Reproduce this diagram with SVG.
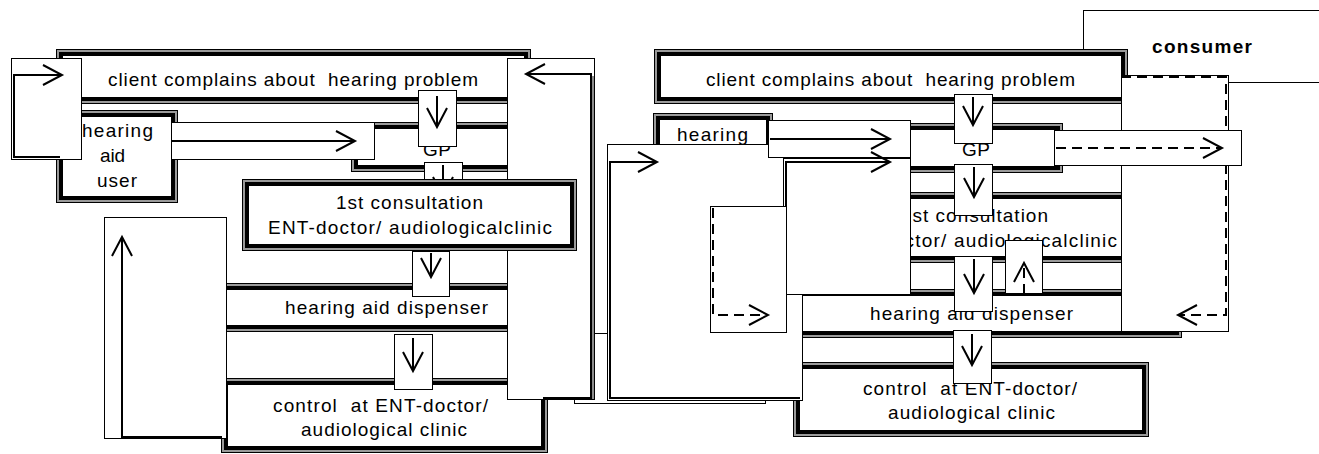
<svg xmlns="http://www.w3.org/2000/svg" width="1319" height="454" viewBox="0 0 1319 454">
<style>
.ob{fill:#9a9a9a;stroke:#000;stroke-width:1}
.ib{fill:#fff;stroke:#000;stroke-width:4}
.cr{fill:#fff;stroke:#000;stroke-width:1}
.tn{fill:#fff;stroke:#000;stroke-width:1}
.t{font-family:"Liberation Sans",Arial,sans-serif;font-size:19px;fill:#000}
.b{font-weight:bold}
.ln{fill:none;stroke:#000;stroke-width:2;marker-end:url(#arr)}
.sh{fill:none;stroke:#8c8c8c;stroke-width:2}
.ds{stroke-dasharray:10 6}
</style>
<defs>
<marker id="arr" markerUnits="userSpaceOnUse" markerWidth="24" markerHeight="24" viewBox="-22 -12 24 24" refX="0" refY="0" orient="auto" overflow="visible">
<path d="M-19,-10 L0,0 L-19,10" fill="none" stroke="#000" stroke-width="2" stroke-dasharray="none"/>
</marker>
</defs>
<rect width="1319" height="454" fill="#fff"/>

<!-- left panel nodes -->
<g id="client-left">
<rect class="ob" x="56.5" y="49.5" width="474" height="54"/>
<rect class="ib" x="61" y="54" width="465" height="45"/>
<text class="t" x="108" y="86" textLength="370" lengthAdjust="spacing" xml:space="preserve">client complains about  hearing problem</text>
</g>
<g id="user-left">
<rect class="ob" x="56.5" y="110.5" width="121" height="92"/>
<rect class="ib" x="61" y="115" width="112" height="83"/>
<text class="t" x="82" y="137" textLength="71" lengthAdjust="spacing">hearing</text>
<text class="t" x="100" y="162" textLength="25" lengthAdjust="spacing">aid</text>
<text class="t" x="97" y="187" textLength="40" lengthAdjust="spacing">user</text>
</g>
<g id="gp-left">
<rect class="ob" x="351.5" y="122.5" width="171" height="49"/>
<rect class="ib" x="356" y="127" width="162" height="40"/>
<text class="t" x="423" y="156" textLength="28" lengthAdjust="spacing">GP</text>
</g>
<g id="dispenser-left">
<rect class="ob" x="215.5" y="283.5" width="314" height="48"/>
<rect class="ib" x="220" y="288" width="305" height="39"/>
<text class="t" x="285" y="314" textLength="203" lengthAdjust="spacing">hearing aid dispenser</text>
</g>
<g id="control-left">
<rect class="ob" x="221.5" y="378.5" width="326" height="74"/>
<rect class="ib" x="226" y="383" width="317" height="65"/>
<text class="t" x="273" y="412" textLength="215" lengthAdjust="spacing" xml:space="preserve">control  at ENT-doctor/</text>
<text class="t" x="301" y="436" textLength="166" lengthAdjust="spacing">audiological clinic</text>
</g>

<!-- right panel nodes -->
<g id="consumer">
<rect class="tn" x="1083.5" y="10.5" width="250" height="72"/>
<text class="t b" x="1152" y="53" textLength="100" lengthAdjust="spacing">consumer</text>
</g>
<g id="client-right">
<rect class="ob" x="654.5" y="49.5" width="473" height="54"/>
<rect class="ib" x="659" y="54" width="464" height="45"/>
<text class="t" x="706" y="86" textLength="369" lengthAdjust="spacing" xml:space="preserve">client complains about  hearing problem</text>
</g>
<g id="user-right">
<rect class="ob" x="653.5" y="113.5" width="119" height="92"/>
<rect class="ib" x="658" y="118" width="110" height="83"/>
<text class="t" x="677" y="141" textLength="71" lengthAdjust="spacing">hearing</text>
</g>
<g id="gp-right">
<rect class="ob" x="889.5" y="123.5" width="173" height="49"/>
<rect class="ib" x="894" y="128" width="164" height="40"/>
<text class="t" x="962" y="156" textLength="28" lengthAdjust="spacing">GP</text>
</g>
<g id="consultation-right">
<rect class="ob" x="808.5" y="192.5" width="333" height="70"/>
<rect class="ib" x="813" y="197" width="324" height="61"/>
<text class="t" x="901" y="222" textLength="147" lengthAdjust="spacing">1st consultation</text>
<text class="t" x="833" y="247" textLength="284" lengthAdjust="spacing">ENT-doctor/ audiologicalclinic</text>
</g>
<g id="dispenser-right">
<rect class="ob" x="790.5" y="289.5" width="391" height="48"/>
<rect class="ib" x="795" y="294" width="382" height="39"/>
<text class="t" x="870" y="320" textLength="203" lengthAdjust="spacing">hearing aid dispenser</text>
</g>
<g id="control-right">
<rect class="ob" x="793.5" y="362.5" width="355" height="74"/>
<rect class="ib" x="798" y="367" width="346" height="65"/>
<text class="t" x="863" y="395" textLength="214" lengthAdjust="spacing" xml:space="preserve">control  at ENT-doctor/</text>
<text class="t" x="888" y="419" textLength="167" lengthAdjust="spacing">audiological clinic</text>
</g>

<!-- connectors -->
<g id="connectors">
<rect class="cr" x="418.5" y="90.5" width="38" height="56"/>
<path class="ln" d="M437,96 L437,127"/>
<rect class="cr" x="424.5" y="162.5" width="38" height="37"/>
<path class="ln" d="M443,165 L443,196"/>
<rect class="cr" x="412.5" y="251.5" width="37" height="45"/>
<path class="ln" d="M431,253 L431,277"/>
<rect class="cr" x="394.5" y="334.5" width="38" height="55"/>
<path class="ln" d="M413,338 L413,371"/>
<rect class="cr" x="11.5" y="58.5" width="70" height="101"/>
<path class="ln" d="M60,157 L14,157 L14,75 L62,75"/>
<rect class="cr" x="171.5" y="122.5" width="203" height="37"/>
<path class="ln" d="M172,141 L355,141"/>
<rect class="cr" x="104.5" y="217.5" width="122" height="221"/>
<path class="ln" d="M222,437 L122,437 L122,237"/>
<rect class="cr" x="574.5" y="333.5" width="191" height="70"/>
<rect class="cr" x="507.5" y="58.5" width="87" height="341"/>
<path class="sh" d="M593,76 L593,399"/>
<path class="ln" d="M543,398 L591,398 L591,74 L526,74"/>
<rect class="cr" x="607.5" y="144.5" width="195" height="256"/>
<path class="ln" d="M800,398 L610,398 L610,162 L657,162"/>
<rect class="cr" x="768.5" y="120.5" width="142" height="37"/>
<path class="ln" d="M770,139 L890,139"/>
<rect class="cr" x="783.5" y="158.5" width="127" height="136"/>
<path class="ln" d="M786,295 L786,162 L890,162"/>
<rect class="cr" x="710.5" y="206.5" width="76" height="126"/>
<path class="ln ds" d="M713,208 L713,315 L768,315"/>
<rect class="cr" x="954.5" y="94.5" width="38" height="49"/>
<path class="ln" d="M973,97 L973,125"/>
<rect class="cr" x="954.5" y="164.5" width="38" height="51"/>
<path class="ln" d="M974,167 L974,197"/>
<rect class="cr" x="954.5" y="256.5" width="38" height="55"/>
<path class="ln" d="M974,259 L974,293"/>
<rect class="cr" x="1005.5" y="240.5" width="37" height="53"/>
<path class="ln ds" d="M1024,294 L1024,263"/>
<rect class="cr" x="953.5" y="330.5" width="38" height="53"/>
<path class="ln" d="M972,334 L972,365"/>
<rect class="cr" x="1121.5" y="75.5" width="107" height="256"/>
<path class="ln ds" d="M1121,77 L1226,77 L1226,315 L1178,315"/>
<rect class="cr" x="1054.5" y="130.5" width="187" height="35"/>
<path class="ln ds" d="M1056,148 L1222,148"/>
</g>

<g id="consultation-left">
<rect class="ob" x="242.5" y="179.5" width="334" height="71"/>
<rect class="ib" x="247" y="184" width="325" height="62"/>
<text class="t" x="336" y="209" textLength="147" lengthAdjust="spacing">1st consultation</text>
<text class="t" x="268" y="234" textLength="284" lengthAdjust="spacing">ENT-doctor/ audiologicalclinic</text>
</g>
</svg>
